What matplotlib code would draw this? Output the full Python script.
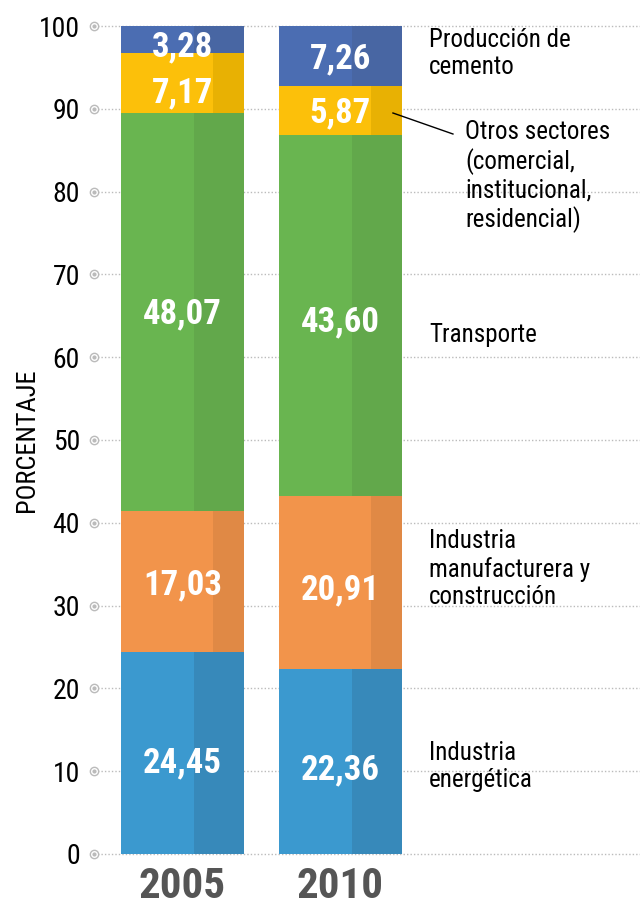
import matplotlib
matplotlib.use("Agg")
import matplotlib.pyplot as plt
from matplotlib import font_manager as fm

years = ["2005", "2010"]
sectors = ["Industria energética", "Industria manufacturera y construcción", "Transporte",
           "Otros sectores", "Producción de cemento"]
val_2005 = [24.45, 17.03, 48.07, 7.17, 3.28]
val_2010 = [22.36, 20.91, 43.60, 5.87, 7.26]
value_labels_2005 = ["24,45", "17,03", "48,07", "7,17", "3,28"]
value_labels_2010 = ["22,36", "20,91", "43,60", "5,87", "7,26"]
yticks = [0, 10, 20, 30, 40, 50, 60, 70, 80, 90, 100]

colors = ["#3b99cf", "#f2944b", "#69b550", "#fcc00a", "#4b6db2"]
dark_colors = ["#3789ba", "#e08945", "#62a84b", "#e8b103", "#4866a3"]
dark_start = [0.593, 0.748, 0.593, 0.748, 0.593]
# vertical nudge (pixels, downward) of value labels
label_nudge = [[7, 1, 0, 7, 4], [6, 5, 4, 0, 0]]

names = {f.name for f in fm.fontManager.ttflist}
cands = ["Roboto Condensed", "Liberation Sans Narrow"]
fam = [c for c in cands if c in names] + ["Roboto", "DejaVu Sans"]
plt.rcParams['font.family'] = fam

PX_PER_UNIT = 8.28
fig = plt.figure(figsize=(6.4, 9.09), dpi=100)
ax = fig.add_axes([94/640, 1 - 854/909, 546/640, (854-26)/909])
ax.set_xlim(-0.560, 2.896)
ax.set_ylim(0, 100)

VAL_FS = 25
half_digit = VAL_FS * 100/72 * 0.711 / 2 / PX_PER_UNIT  # in data units

w = 123/158
for i, vals in enumerate([val_2005, val_2010]):
    labs = [value_labels_2005, value_labels_2010][i]
    bottom = 0
    for k, v in enumerate(vals):
        ax.bar(i, v, width=w, bottom=bottom, color=colors[k], zorder=2, linewidth=0)
        left = i - w/2 + dark_start[k]*w
        ax.bar(left, v, width=i + w/2 - left, bottom=bottom, align='edge',
               color=dark_colors[k], zorder=2.1, linewidth=0)
        ybase = bottom + v/2 - half_digit - label_nudge[i][k]/PX_PER_UNIT
        ax.text(i, ybase, labs[k], ha='center', va='baseline', color='white',
                fontsize=VAL_FS, fontweight='bold', zorder=3)
        bottom += v
    ax.text(i, -3.9, years[i], ha='center', va='center', color='#555555',
            fontsize=31, fontweight='bold', clip_on=False)

# grid lines with circular tick markers
for t in yticks:
    ax.plot([-0.56, 2.896], [t, t], linestyle=(0, (1, 1.5)), color='#bbbbbb', lw=1, zorder=1,
            clip_on=False)
    ax.plot([-0.56], [t], marker='o', markersize=6, markerfacecolor='white',
            markeredgecolor='#bbbbbb', markeredgewidth=1, clip_on=False, zorder=4)
    ax.plot([-0.56], [t], marker='o', markersize=2, color='#bbbbbb', clip_on=False, zorder=5)

ax.set_yticks(yticks)
ax.set_yticklabels([str(t) for t in yticks], fontsize=20)
ax.tick_params(axis='y', length=0, pad=10)
ax.set_xticks([])
for s in ax.spines.values():
    s.set_visible(False)

fig.text(27/640, 1 - 440/909, "PORCENTAJE", rotation=90, ha='center', va='center',
         fontsize=19, color='black')

def px2x(px):
    return (px - 182.5) / 158

def py2y(py):
    return (854 - py) / PX_PER_UNIT

lab_kw = dict(fontsize=18, color='black', ha='left', va='top', linespacing=1.18, clip_on=False)
ax.text(px2x(429), py2y(28), "Producción de\ncemento", **lab_kw)
ax.text(px2x(465), py2y(120), "Otros sectores\n(comercial,\ninstitucional,\nresidencial)", **lab_kw)
ax.text(px2x(429), py2y(335), "Transporte", fontsize=18, color='black', ha='left', va='center')
ax.text(px2x(429), py2y(529), "Industria\nmanufacturera y\nconstrucción", **lab_kw)
ax.text(px2x(429), py2y(741), "Industria\nenergética", **lab_kw)
ax.plot([px2x(393), px2x(453)], [py2y(113), py2y(134)], color='black', lw=1, zorder=6, clip_on=False)

fig.savefig("out.png", dpi=100)
